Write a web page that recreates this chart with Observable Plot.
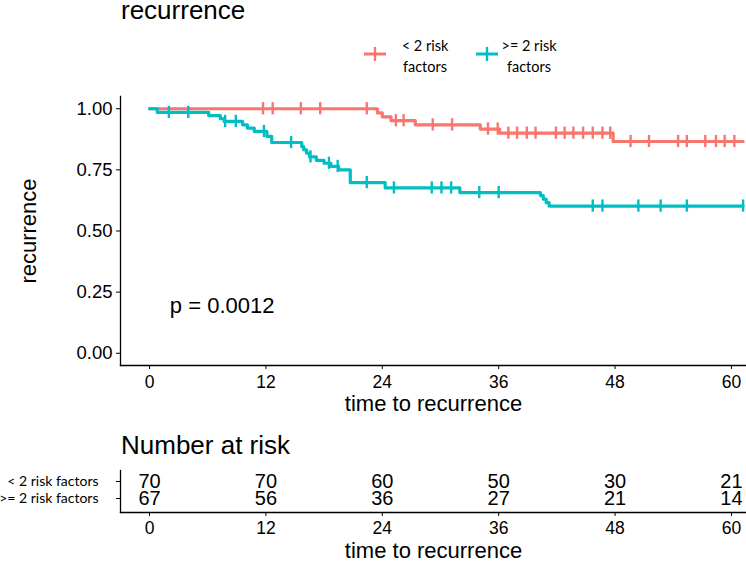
<!DOCTYPE html>
<html><head><meta charset="utf-8">
<script src="https://cdn.jsdelivr.net/npm/d3@7"></script>
<script src="https://cdn.jsdelivr.net/npm/@observablehq/plot@0.6"></script>
<style>
body{margin:0;background:#fff;font-family:"Liberation Sans",Arial,sans-serif;color:#000;}
#wrap{position:relative;width:746px;height:562px;overflow:hidden;background:#fff;}
.abs{position:absolute;}
#title{left:121px;top:-3px;font-size:26px;line-height:26px;white-space:nowrap;}
#risktitle{left:121px;top:432px;font-size:26px;line-height:26px;white-space:nowrap;}
#legend{left:355px;top:30px;}
#main{left:0;top:85px;}
#table{left:0;top:460px;}
</style></head><body>
<div id="wrap">
  <div id="title" class="abs">recurrence</div>
  <svg id="legend" class="abs" width="210" height="50"></svg>
  <div id="main" class="abs"></div>
  <div id="risktitle" class="abs">Number at risk</div>
  <div id="table" class="abs"></div>
</div>
<script>
// ---- data ----
const groups = ["< 2 risk factors", ">= 2 risk factors"];
const legendLines = [["< 2 risk", "factors"], [">= 2 risk", "factors"]];
const colors = ["#F8766D", "#00BFC4"];

const lowTime = [0, 23.5, 24.0, 24.9, 27.4, 34.1, 36.1, 47.8, 61.2];
const lowSurv = [1, 0.983, 0.967, 0.951, 0.934, 0.917, 0.900, 0.866, 0.866];
const lowCensor = [11.7, 12.7, 15.6, 17.6, 22.4, 25.4, 26.2, 29.2, 31.2, 34.9, 35.9, 37.0, 37.9, 38.9, 39.8,
  41.9, 42.8, 43.7, 44.7, 45.7, 46.7, 47.5, 49.6, 51.5, 54.5, 55.4, 57.3, 58.4, 59.3, 60.3];

const highTime = [0, 0.8, 6.1, 7.3, 7.7, 9.6, 10.1, 10.8, 12.1, 12.6, 15.7, 15.9, 16.2, 16.5, 17.2, 18.0,
  18.7, 19.5, 20.7, 24.3, 32.0, 40.3, 40.6, 40.9, 41.2, 61.2];
const highSurv = [1, 0.985, 0.972, 0.959, 0.948, 0.934, 0.921, 0.907, 0.887, 0.862, 0.845, 0.832, 0.818,
  0.803, 0.789, 0.777, 0.764, 0.750, 0.698, 0.676, 0.657, 0.645, 0.630, 0.616, 0.602, 0.602];
const highCensor = [2.0, 4.0, 7.8, 8.9, 11.8, 14.6, 16.6, 18.5, 19.4, 22.4, 25.2, 29.1, 30.1, 31.1, 34.0,
  36.0, 45.7, 46.7, 50.4, 52.7, 55.4, 61.2];

const timeTicks = [0, 12, 24, 36, 48, 60];
const yTicks = [0, 0.25, 0.5, 0.75, 1];
const riskLow = [70, 70, 60, 50, 30, 21];
const riskHigh = [67, 56, 36, 27, 21, 14];
const pLabel = "p = 0.0012";
const pPos = [2.1, 0.193];

// ---- tables built from the arrays ----
const series = [[lowTime, lowSurv, lowCensor], [highTime, highSurv, highCensor]];
const curveRows = [];
const censorRows = [];
series.forEach(([ts, ss, cs], gi) => {
  ts.forEach((t, i) => curveRows.push({group: groups[gi], time: t, surv: ss[i]}));
  cs.forEach(c => {
    let s = ss[0];
    for (let i = 0; i < ts.length; i++) if (ts[i] <= c) s = ss[i];
    censorRows.push({group: groups[gi], time: c, surv: s});
  });
});
const riskRows = [];
timeTicks.forEach((t, i) => {
  riskRows.push({group: groups[0], time: t, n: riskLow[i]});
  riskRows.push({group: groups[1], time: t, n: riskHigh[i]});
});

const font = "Liberation Sans, Arial, sans-serif";
const xDomain = [-2.99, 61.55];

const main = Plot.plot({
  width: 746, height: 340, marginLeft: 120, marginRight: 0, marginTop: 11, marginBottom: 60,
  style: {fontFamily: font, background: "transparent", color: "#000", overflow: "visible"},
  x: {domain: xDomain},
  y: {domain: [-0.05, 1.05]},
  color: {domain: groups, range: colors},
  marks: [
    Plot.frame({anchor: "left", stroke: "#000", strokeWidth: 1.3}),
    Plot.frame({anchor: "bottom", stroke: "#000", strokeWidth: 1.3}),
    Plot.axisY({ticks: yTicks, tickSize: 4, tickPadding: 4, fontSize: 18.5, tickFormat: d3.format(".2f"), label: null, stroke: "#000"}),
    Plot.axisX({ticks: timeTicks, tickSize: 4, tickPadding: 6, fontSize: 17.5, label: null, stroke: "#000"}),
    Plot.text(["time to recurrence"], {frameAnchor: "bottom", lineAnchor: "middle", textAnchor: "middle", dy: 38, fontSize: 22, fill: "#000"}),
    Plot.text(["recurrence"], {frameAnchor: "left", lineAnchor: "middle", textAnchor: "middle", rotate: -90, dx: -92, fontSize: 22, fill: "#000"}),
    Plot.line(curveRows, {x: "time", y: "surv", z: "group", stroke: "group", curve: "step-after", strokeWidth: 3.2}),
    Plot.ruleX(censorRows, {x: "time", y1: d => d.surv - 0.025, y2: d => d.surv + 0.025, stroke: "group", strokeWidth: 2.4}),
    Plot.text([pLabel], {x: () => pPos[0], y: () => pPos[1], textAnchor: "start", lineAnchor: "middle", fontSize: 22, fill: "#000"})
  ]
});
document.getElementById("main").appendChild(main);

const table = Plot.plot({
  width: 746, height: 102, marginLeft: 120, marginRight: 0, marginTop: 10, marginBottom: 50,
  style: {fontFamily: font, background: "transparent", color: "#000", overflow: "visible"},
  x: {domain: xDomain},
  y: {type: "point", domain: groups, range: [20.5, 38], padding: 0},
  marks: [
    Plot.frame({anchor: "left", stroke: "#000", strokeWidth: 1.3}),
    Plot.frame({anchor: "bottom", stroke: "#000", strokeWidth: 1.3}),
    Plot.axisY({tickSize: 4, tickPadding: 18, fontSize: 14, fontFamily: "Lato, sans-serif", label: null, stroke: "#000"}),
    Plot.axisX({ticks: timeTicks, tickSize: 4, tickPadding: 5, fontSize: 17.5, label: null, stroke: "#000"}),
    Plot.text(riskRows, {x: "time", y: "group", text: "n", fontSize: 20, fill: "#000"}),
    Plot.text(["time to recurrence"], {frameAnchor: "bottom", lineAnchor: "middle", textAnchor: "middle", dy: 38, fontSize: 22, fill: "#000"})
  ]
});
document.getElementById("table").appendChild(table);

// legend
const leg = d3.select("#legend");
const keyX = [20, 132], textX = [70, 174];
groups.forEach((g, i) => {
  const k = leg.append("g").attr("stroke", colors[i]).attr("stroke-width", 3);
  k.append("line").attr("x1", keyX[i] - 11).attr("x2", keyX[i] + 11).attr("y1", 24).attr("y2", 24);
  k.append("line").attr("x1", keyX[i]).attr("x2", keyX[i]).attr("y1", 17).attr("y2", 31).attr("stroke-width", 2.4);
  const t = leg.append("text").attr("text-anchor", "middle").attr("font-family", "Lato, sans-serif").attr("font-size", 14.5).attr("fill", "#000");
  t.append("tspan").attr("x", textX[i]).attr("y", 21).text(legendLines[i][0]);
  t.append("tspan").attr("x", textX[i]).attr("y", 42).text(legendLines[i][1]);
});
</script>
</body></html>
